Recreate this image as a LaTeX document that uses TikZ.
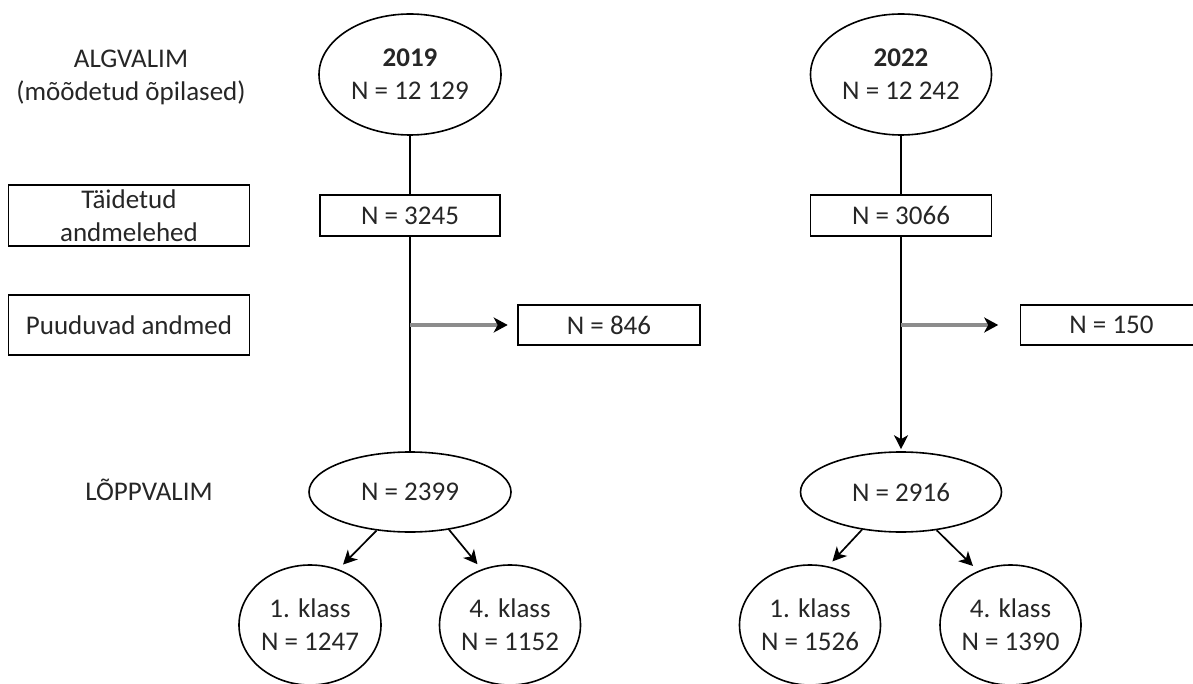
\documentclass[tikz,border=0pt]{standalone}
\usepackage{fontspec}
\setmainfont{Carlito}
\usetikzlibrary{arrows.meta,shapes.geometric}
\begin{document}
\begin{tikzpicture}[x=1pt,y=-1pt,
  every node/.style={font=\fontsize{27}{33}\selectfont, text=black!85, align=center, inner sep=0pt},
  ell/.style={draw, ellipse, line width=1.6pt},
  rbox/.style={draw, rectangle, line width=1.6pt},
  conn/.style={line width=1.7pt},
  arr/.style={line width=1.7pt, -{Stealth[length=14pt,width=14pt,inset=4pt]}},
  side/.style={line width=3.5pt, draw=black!45, -{Stealth[length=14pt,width=15pt,inset=4pt,black]}},
]
\useasboundingbox (0,0) rectangle (1193,684);

% labels on the left
\node (algv) at (131,77.5) {ALGVALIM\\(mõõdetud õpilased)};
\node[rbox, minimum width=241pt, minimum height=61pt] (taid) at (129,215.5) {Täidetud\\andmelehed};
\node[rbox, minimum width=241pt, minimum height=60pt] (puud) at (129,325) {Puuduvad andmed};
\node (lopp) at (149,490) {LÕPPVALIM};

% 2019 column
\node[ell, minimum width=182pt, minimum height=121pt] (e19) at (410,74.5) {\textbf{2019}\\N = 12 129};
\node[rbox, minimum width=180pt, minimum height=41pt] (b19) at (410,215.5) {N = 3245};
\node[rbox, minimum width=182pt, minimum height=40pt] (b846) at (609,325) {N = 846};
\node[ell, minimum width=202pt, minimum height=80pt] (f19) at (410,492) {N = 2399};
\node[ell, minimum width=142pt, minimum height=120pt] (c1) at (310,625) {1. klass\\N = 1247};
\node[ell, minimum width=141pt, minimum height=120pt] (c4) at (510,625) {4. klass\\N = 1152};

% 2022 column
\node[ell, minimum width=181pt, minimum height=121pt] (e22) at (901,74.5) {\textbf{2022}\\N = 12 242};
\node[rbox, minimum width=181pt, minimum height=41pt] (b22) at (901,215.5) {N = 3066};
\node[rbox, minimum width=182pt, minimum height=40pt] (b150) at (1111.5,325) {N = 150};
\node[ell, minimum width=201pt, minimum height=80pt] (f22) at (901,492) {N = 2916};
\node[ell, minimum width=141pt, minimum height=120pt] (d1) at (810,625) {1. klass\\N = 1526};
\node[ell, minimum width=141pt, minimum height=120pt] (d4) at (1010.5,625) {4. klass\\N = 1390};

% connectors 2019
\draw[conn] (e19.south) -- (b19.north);
\draw[conn] (b19.south) -- (b19.south |- f19.north);
\coordinate (j19) at (b19.south |- b846.west);
\draw[side, shorten >=9.5pt] (j19) -- (b846.west);
\draw[arr, shorten >=6.5pt] (f19.-131.3) -- (c1.63.4);
\draw[arr, shorten >=6.5pt] (f19.-44.6) -- (c4.117.7);

% connectors 2022
\draw[conn] (e22.south) -- (b22.north);
\draw[arr, shorten >=2pt] (b22.south) -- (f22.north);
\coordinate (j22) at (b22.south |- b150.west);
\draw[side, shorten >=21.5pt] (j22) -- (b150.west);
\draw[arr, shorten >=6.5pt] (f22.-136.5) -- (d1.73.7);
\draw[arr, shorten >=7pt] (f22.-47.2) -- (d4.121.9);
\end{tikzpicture}
\end{document}
